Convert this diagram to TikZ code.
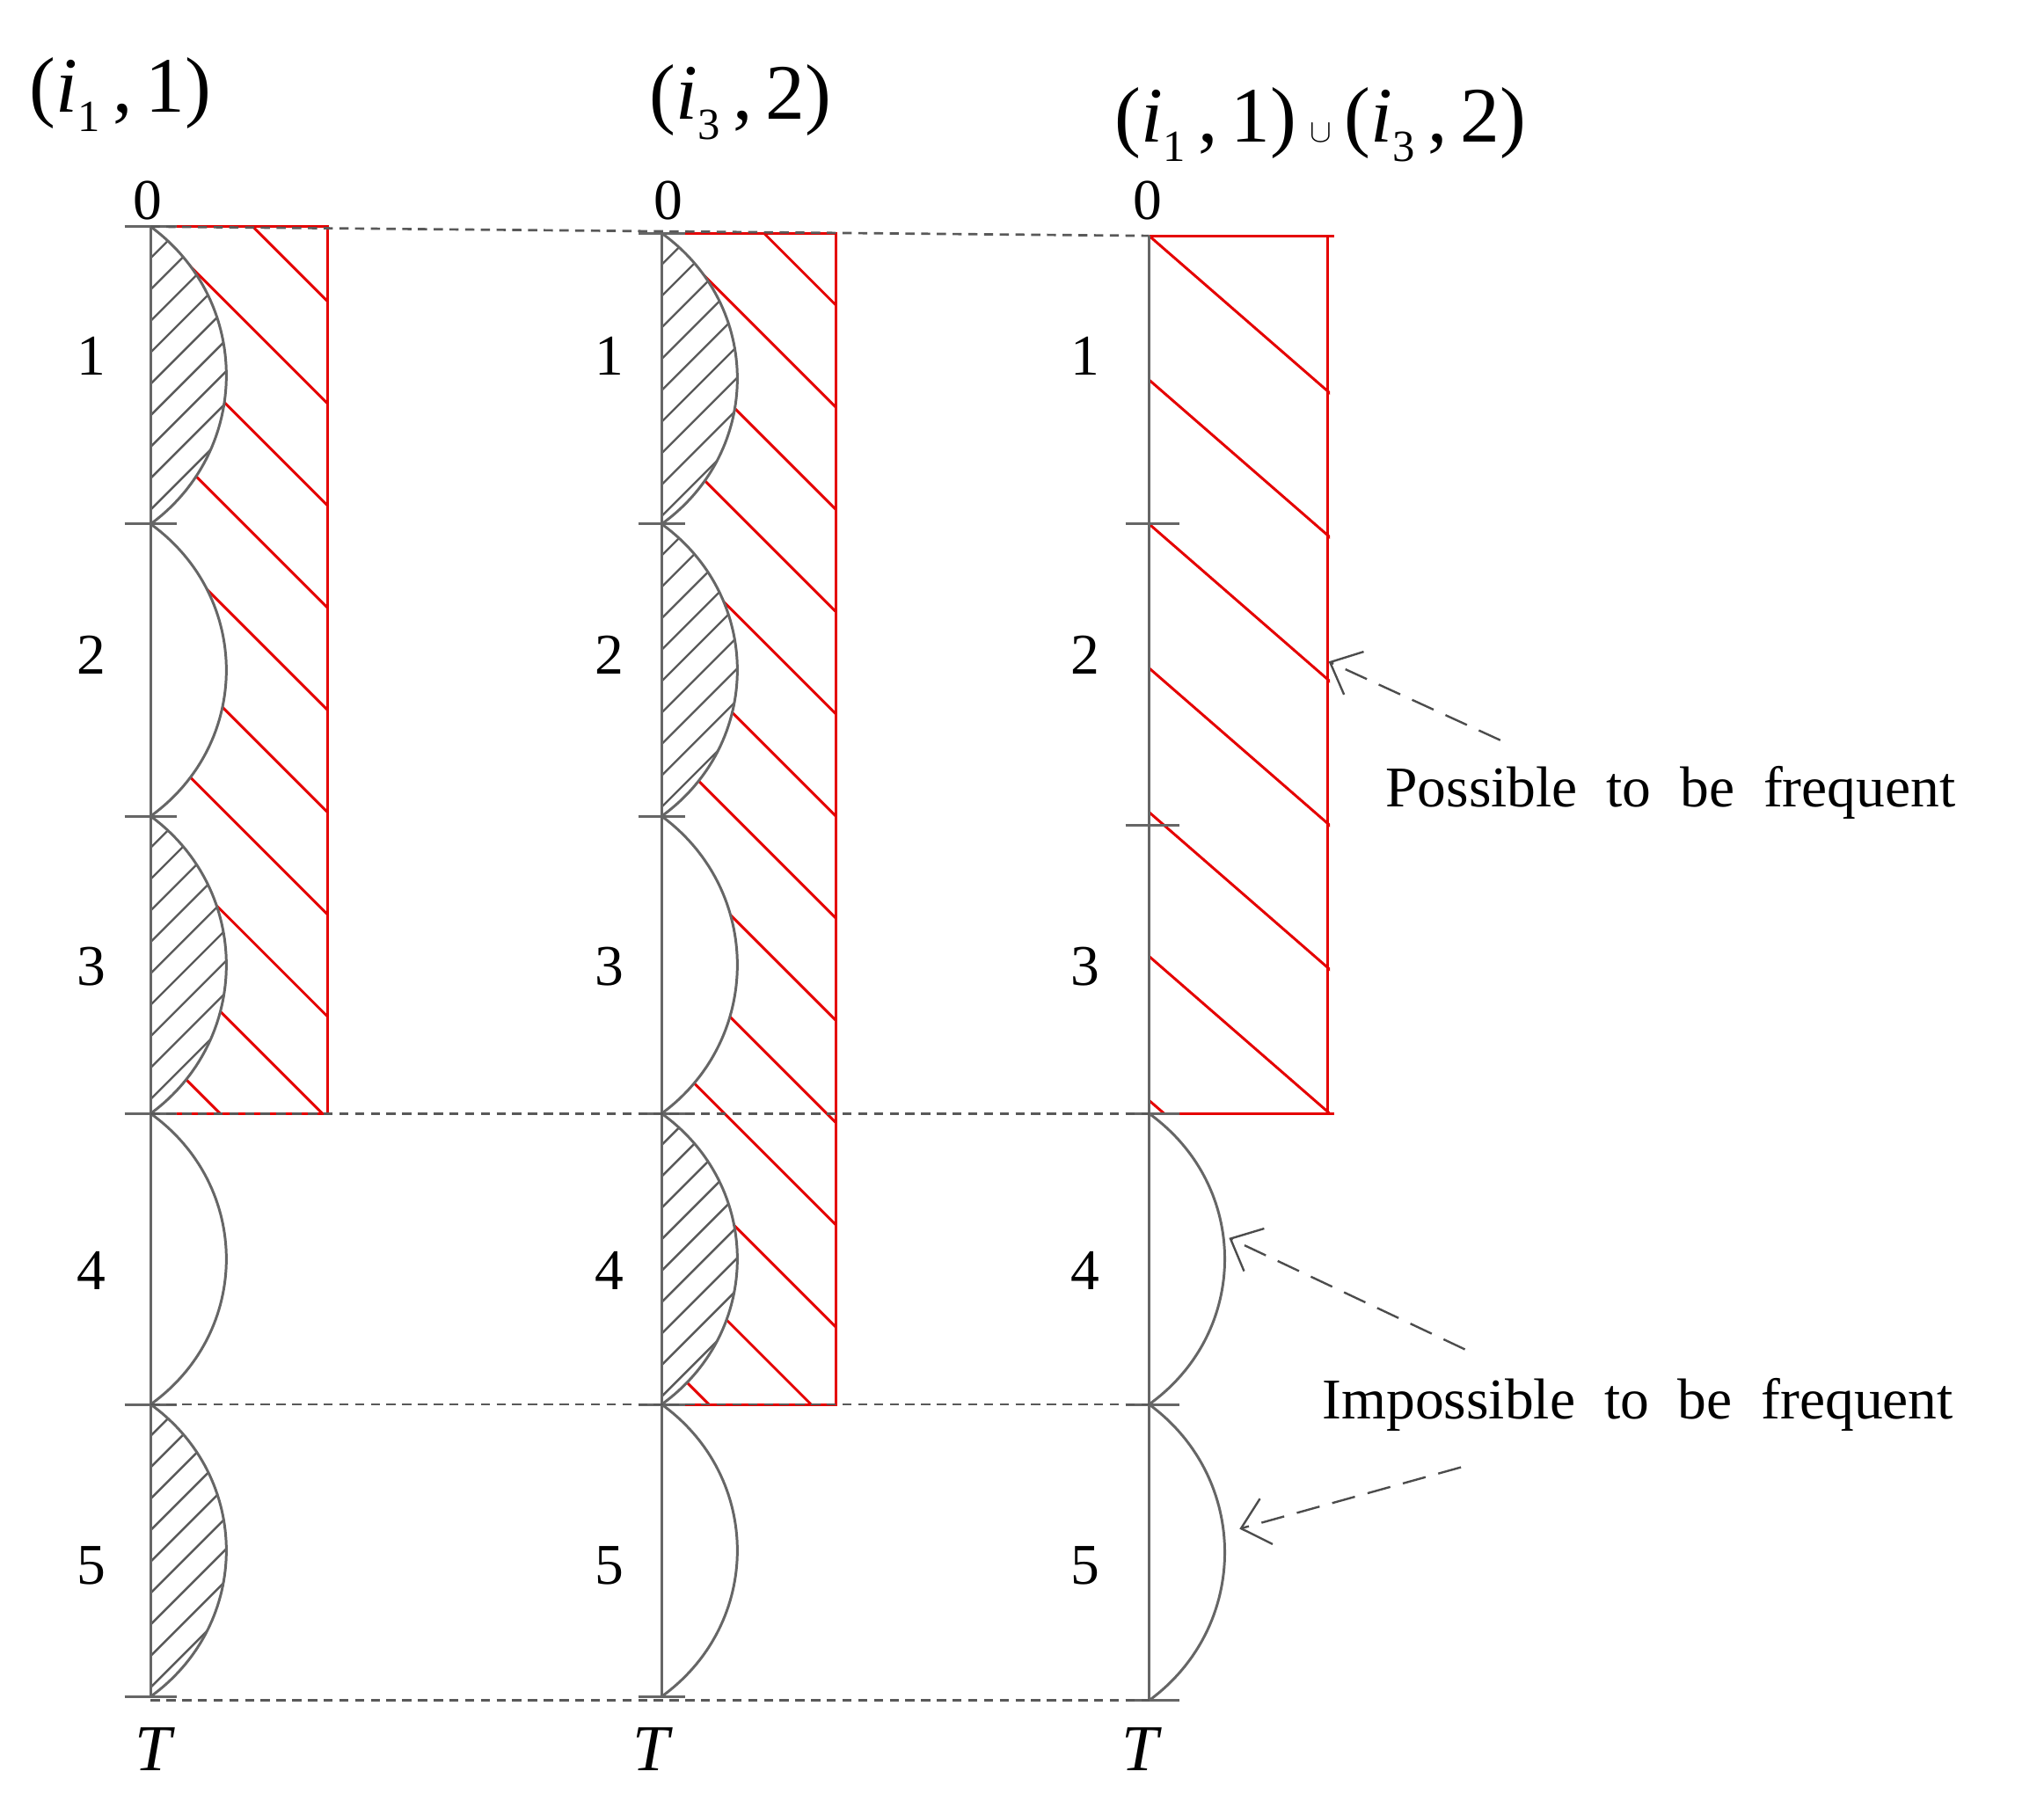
\documentclass[tikz,border=0pt]{standalone}
\usepackage{fontspec}
\setmainfont{Liberation Serif}
\usetikzlibrary{arrows.meta}
\newcommand{\ital}[2]{\textit{#1}\raisebox{-0.25em}{\fontsize{34}{38}\selectfont #2}}
\newcommand{\wsp}{\spaceskip 0.5em\relax}
\begin{document}
\begin{tikzpicture}[x=1pt,y=-1pt,
  ax/.style={draw=gray!80!black,line width=2pt},
  rd/.style={draw=red!90!black,line width=2pt},
  hg/.style={draw=gray!70!black,line width=1.6pt},
  dsh/.style={draw=gray!70!black,line width=1.8pt,dash pattern=on 7pt off 5pt},
  num/.style={font=\fontsize{44}{50}\selectfont},
  ttl/.style={font=\fontsize{60}{66}\selectfont},
  lab/.style={font=\fontsize{44}{50}\selectfont},
  arr/.style={draw=gray!60!black,line width=1.6pt,dash pattern=on 18pt off 10pt,-{Straight Barb[length=20pt,width=36pt]}}]
\useasboundingbox (0,0) rectangle (1560,1380);
\def\arcpath#1#2#3{(#1,#2) .. controls ({#1+77},{#2+0.25*(#3-#2)}) and ({#1+77},{#2+0.75*(#3-#2)}) .. (#1,#3)}
% ---------------- Column 1 ----------------
\begin{scope}
\clip (115,173) rectangle (250,850);
\foreach \k in {-2,...,9} \draw[rd] (115,{173+\k*78}) -- ++(300,300);
\end{scope}
\foreach \a/\b in {173/400,400/623,623/850,850/1072,1072/1295} \fill[white] \arcpath{115}{\a}{\b} -- cycle;
\foreach \a/\b in {173/400,623/850,1072/1295}{
 \begin{scope}\clip \arcpath{115}{\a}{\b} -- cycle;
 \foreach \k in {0,...,12} \draw[hg] (115,{\a+\k*24}) -- ++(90,-90);
 \end{scope}}
\foreach \a/\b in {173/400,400/623,623/850,850/1072,1072/1295} \draw[ax] \arcpath{115}{\a}{\b};
\draw[rd] (115,173) -- (250,173) -- (250,850) -- (115,850);
\draw[ax] (115,173) -- (115,1295);
\foreach \y in {173,400,623,850,1072,1295} \draw[ax] (95,\y) -- (135,\y);
% ---------------- Column 2 ----------------
\begin{scope}
\clip (505,178) rectangle (638,1072);
\foreach \k in {-2,...,12} \draw[rd] (505,{178+\k*78}) -- ++(300,300);
\end{scope}
\foreach \a/\b in {178/400,400/623,623/850,850/1072,1072/1295} \fill[white] \arcpath{505}{\a}{\b} -- cycle;
\foreach \a/\b in {178/400,400/623,850/1072}{
 \begin{scope}\clip \arcpath{505}{\a}{\b} -- cycle;
 \foreach \k in {0,...,12} \draw[hg] (505,{\a+\k*24}) -- ++(90,-90);
 \end{scope}}
\foreach \a/\b in {178/400,400/623,623/850,850/1072,1072/1295} \draw[ax] \arcpath{505}{\a}{\b};
\draw[rd] (505,178) -- (638,178) -- (638,1072) -- (505,1072);
\draw[ax] (505,178) -- (505,1295);
\foreach \y in {178,400,623,850,1072,1295} \draw[ax] (487,\y) -- (523,\y);
% ---------------- Column 3 ----------------
\begin{scope}
\clip (877,180) rectangle (1015,850);
\foreach \k in {0,...,7} \draw[rd] (877,{180+\k*110}) -- ++(300,261);
\end{scope}
\foreach \a/\b in {850/1072,1072/1298} \draw[ax] \arcpath{877}{\a}{\b};
\draw[rd] (877,180) -- (1018,180);
\draw[rd] (1013,180) -- (1013,850);
\draw[rd] (877,850) -- (1018,850);
\draw[ax] (877,180) -- (877,1298);
\foreach \y in {400,630,850,1072,1298} \draw[ax] (859,\y) -- (900,\y);
% dashed connectors
\coordinate (t1) at (115,173); \coordinate (t3) at (877,180);
\draw[dsh] (t1) -- (t3);
\draw[dsh] (115,850) -- (877,850);
\draw[dsh] (115,1072) -- (877,1072);
\draw[dsh] (115,1298) -- (877,1298);
% labels
\foreach \x in {70,465,828}{
 \foreach \y/\t in {272/1,500/2,738/3,970/4,1195/5} \node[num] at (\x,\y) {\t};}
\node[num] (z1) at (113,153) {0};
\node[num] (z2) at (510,153) {0};
\node[num] (z3) at (876,153) {0};
\node[num,font=\fontsize{50}{56}\selectfont\itshape] (T1) at (117,1335) {T};
\node[num,font=\fontsize{50}{56}\selectfont\itshape] (T2) at (497,1335) {T};
\node[num,font=\fontsize{50}{56}\selectfont\itshape] (T3) at (870,1335) {T};
\node[ttl] (h1) at (92,72) {(\ital{i}{1}\,,\,1)};
\node[ttl] (h2) at (565,78) {(\ital{i}{3}\,,\,2)};
\node[ttl] (h3) at (1008,95) {(\ital{i}{1}\,,\,1)\,$\cup$\,(\ital{i}{3}\,,\,2)};
\node[lab] (pos) at (1275,605) {\wsp Possible to be frequent};
\node[lab] (imp) at (1250,1072) {\wsp Impossible to be frequent};
\coordinate (p1) at (1145,565); \coordinate (p2) at (1014,505);
\draw[arr] (p1) -- (p2);
\coordinate (i1) at (1118,1030); \coordinate (i2) at (938,945);
\coordinate (i3) at (1115,1120); \coordinate (i4) at (946,1167);
\draw[arr] (i1) -- (i2);
\draw[arr] (i3) -- (i4);
\end{tikzpicture}
\end{document}
